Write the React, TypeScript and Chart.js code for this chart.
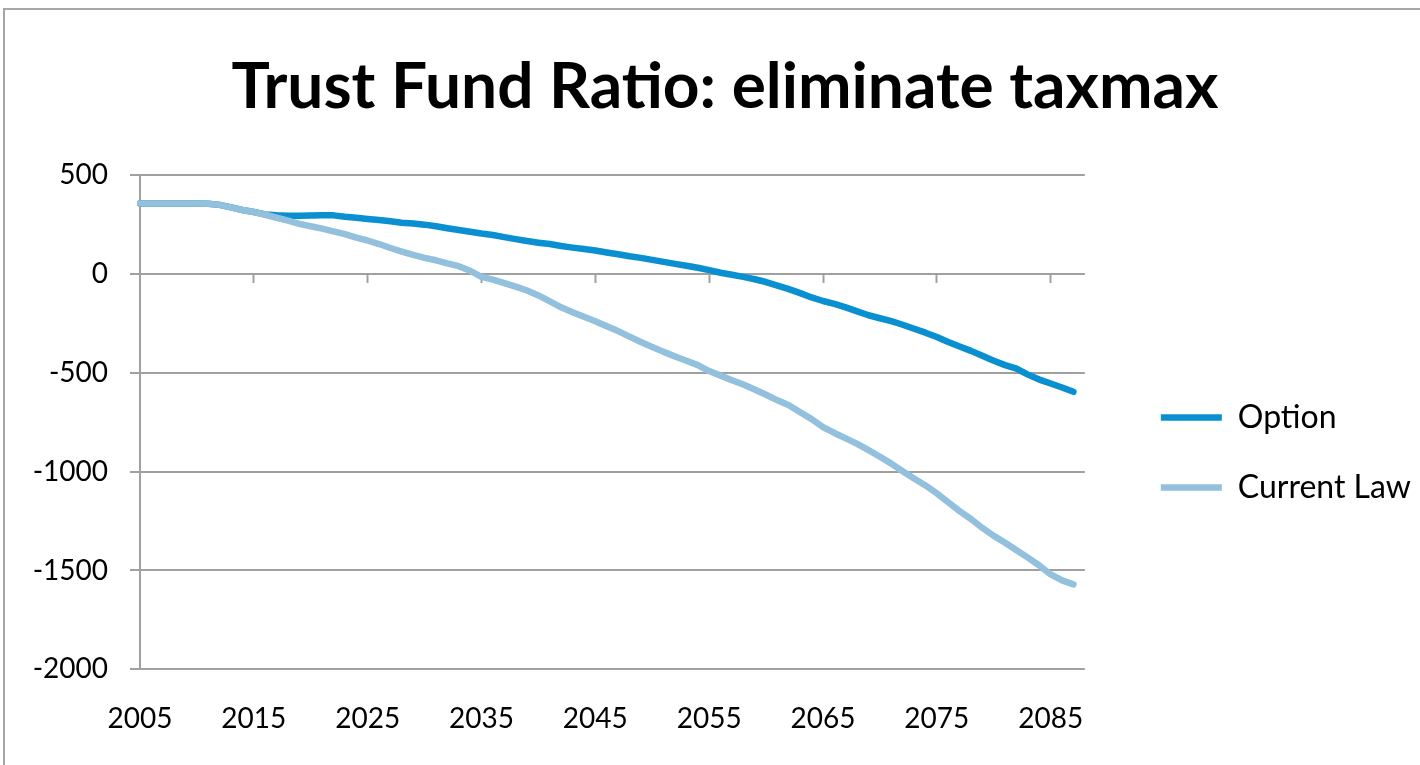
import React, { useEffect, useRef } from 'react';
import { Chart, registerables } from 'chart.js';

Chart.register(...registerables);

const years = [
  '2005', '2006', '2007', '2008', '2009', '2010', '2011', '2012', '2013', '2014',
  '2015', '2016', '2017', '2018', '2019', '2020', '2021', '2022', '2023', '2024',
  '2025', '2026', '2027', '2028', '2029', '2030', '2031', '2032', '2033', '2034',
  '2035', '2036', '2037', '2038', '2039', '2040', '2041', '2042', '2043', '2044',
  '2045', '2046', '2047', '2048', '2049', '2050', '2051', '2052', '2053', '2054',
  '2055', '2056', '2057', '2058', '2059', '2060', '2061', '2062', '2063', '2064',
  '2065', '2066', '2067', '2068', '2069', '2070', '2071', '2072', '2073', '2074',
  '2075', '2076', '2077', '2078', '2079', '2080', '2081', '2082', '2083', '2084',
  '2085', '2086', '2087', '2088',
];

const tickYears = ['2005', '2015', '2025', '2035', '2045', '2055', '2065', '2075', '2085'];

const optionValues = [
  355, 355, 355, 355, 355, 355, 354, 348, 335, 322,
  312, 300, 295, 293, 293, 294, 295, 295, 288, 283,
  277, 272, 265, 258, 254, 248, 240, 230, 221, 212,
  203, 196, 185, 175, 165, 157, 150, 140, 132, 125,
  117, 107, 98, 88, 80, 70, 60, 50, 40, 30,
  18, 5, -5, -16, -28, -42, -60, -78, -98, -120,
  -138, -152, -170, -190, -210, -225, -240, -258, -278, -298,
  -320, -345, -368, -390, -415, -440, -462, -480, -510, -535,
  -555, -575, -597, null,
];

const currentLawValues = [
  355, 355, 355, 355, 355, 355, 354, 348, 335, 322,
  312, 298, 283, 268, 252, 240, 228, 214, 200, 182,
  168, 150, 130, 112, 95, 80, 68, 52, 38, 15,
  -16, -30, -48, -65, -85, -110, -140, -170, -195, -218,
  -240, -265, -290, -318, -345, -370, -395, -418, -440, -462,
  -492, -515, -538, -560, -585, -612, -640, -665, -700, -735,
  -775, -805, -832, -860, -892, -925, -960, -998, -1035, -1070,
  -1110, -1155, -1200, -1240, -1285, -1325, -1360, -1398, -1435, -1475,
  -1520, -1550, -1570, null,
];

const yMin = -2000;
const yMax = 500;
const yStep = 500;

const FONT = 'Lato, "Open Sans", sans-serif';
const GRID = '#a0a0a0';
const OPTION_COLOR = '#0a8fd0';
const CURRENT_COLOR = '#93c1dd';

export default function App() {
  const ref = useRef<HTMLCanvasElement>(null);

  useEffect(() => {
    if (!ref.current) return;
    Chart.defaults.font.family = FONT;
    const chart = new Chart(ref.current, {
      type: 'line',
      data: {
        labels: years,
        datasets: [
          {
            label: 'Option',
            data: optionValues,
            borderColor: OPTION_COLOR,
            backgroundColor: OPTION_COLOR,
            borderWidth: 6.5,
            pointRadius: 0,
            pointHoverRadius: 0,
            borderCapStyle: 'round',
            borderJoinStyle: 'round',
            tension: 0,
            order: 1,
          },
          {
            label: 'Current Law',
            data: currentLawValues,
            borderColor: CURRENT_COLOR,
            backgroundColor: CURRENT_COLOR,
            borderWidth: 6.5,
            pointRadius: 0,
            pointHoverRadius: 0,
            borderCapStyle: 'round',
            borderJoinStyle: 'round',
            tension: 0,
            order: 0,
          },
        ],
      },
      options: {
        animation: false,
        responsive: true,
        maintainAspectRatio: false,
        events: [],
        layout: { padding: { left: 24, right: -1, top: 0, bottom: -4 } },
        plugins: {
          title: {
            display: true,
            text: 'Trust Fund Ratio: eliminate taxmax',
            color: '#000',
            font: { family: FONT, size: 64, weight: 'bold', lineHeight: 1.2 },
            padding: { top: 39, bottom: 49 },
          },
          legend: {
            position: 'right',
            fullSize: false,
            title: {
              display: true,
              text: ' ',
              font: { size: 12, lineHeight: 1.2 },
              padding: { top: 23, bottom: 23.6 },
            },
            labels: {
              usePointStyle: true,
              pointStyle: 'line',
              pointStyleWidth: 61,
              padding: 38,
              color: '#000',
              font: { family: FONT, size: 32 },
              sort: (a: any, b: any) => a.datasetIndex - b.datasetIndex,
            },
          },
          tooltip: { enabled: false },
        },
        scales: {
          x: {
            type: 'category',
            axis: 'x',
            position: 'bottom',
            offset: false,
            grid: { display: false, drawTicks: false },
            border: { display: false },
            ticks: {
              autoSkip: false,
              maxRotation: 0,
              minRotation: 0,
              padding: 33,
              color: '#000',
              font: { family: FONT, size: 28 },
              callback: (_v: any, i: number) => (tickYears.includes(years[i]) ? years[i] : ''),
            },
          },
          x2: {
            type: 'category',
            axis: 'x',
            position: { y: 0 },
            offset: false,
            grid: {
              display: true,
              drawOnChartArea: false,
              drawTicks: true,
              tickLength: 9,
              tickWidth: 2,
              tickColor: (c: any) =>
                c.index > 0 && tickYears.includes(years[c.index]) ? GRID : 'rgba(0,0,0,0)',
            },
            border: { display: false },
            ticks: { display: false, autoSkip: false },
          },
          y: {
            type: 'linear',
            axis: 'y',
            position: 'left',
            min: yMin,
            max: yMax,
            ticks: {
              stepSize: yStep,
              padding: 22,
              color: '#000',
              font: { family: FONT, size: 28 },
              callback: (v: any) => String(v),
            },
            grid: { color: GRID, lineWidth: 2, drawTicks: true, tickLength: 10 },
            border: { display: true, color: GRID, width: 2 },
            afterFit: (s: any) => {
              s.width = 111;
            },
          },
          y2: {
            type: 'linear',
            axis: 'y',
            position: 'right',
            display: false,
            grid: { display: false },
            border: { display: false },
            ticks: { display: false },
            afterFit: (s: any) => {
              s.width = 38;
            },
          },
        },
      } as any,
    });
    return () => chart.destroy();
  }, []);

  return (
    <div
      style={{
        position: 'fixed',
        left: 3,
        top: 8,
        width: 1417,
        height: 757,
        boxSizing: 'border-box',
        borderTop: '2px solid #a6a6a6',
        borderLeft: '2px solid #a6a6a6',
        background: '#fff',
      }}
    >
      <div style={{ position: 'relative', width: '100%', height: '100%' }}>
        <canvas ref={ref} />
      </div>
    </div>
  );
}
